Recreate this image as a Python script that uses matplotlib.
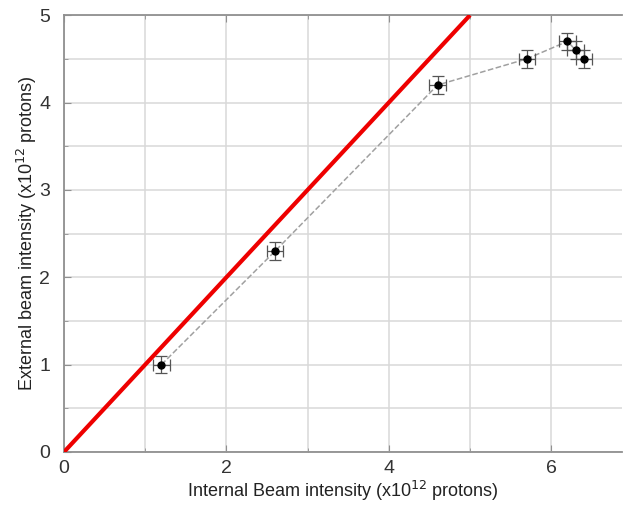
import numpy as np
import matplotlib
matplotlib.use('Agg')
import matplotlib.pyplot as plt
from matplotlib.ticker import MultipleLocator

plt.rcParams['font.family'] = ['Liberation Sans', 'DejaVu Sans']

internal = [1.2, 2.6, 4.6, 5.7, 6.2, 6.3, 6.4]
external = [1.0, 2.3, 4.2, 4.5, 4.7, 4.6, 4.5]
x_err = [0.1, 0.1, 0.1, 0.1, 0.1, 0.1, 0.1]
y_err = [0.1, 0.1, 0.1, 0.1, 0.1, 0.1, 0.1]

# Ideal 1:1 line
ideal_x = [0, 5]
ideal_y = [0, 5]


def main():
    fig = plt.figure(figsize=(6.24, 5.05), dpi=100)
    ax = fig.add_axes([0.1026, 0.105, 0.894, 0.865])

    ax.plot(internal, external, linestyle='--', color='#a0a0a0', linewidth=1.1, zorder=2)
    ax.errorbar(internal, external, xerr=x_err, yerr=y_err, fmt='o', color='black',
                markersize=5, ecolor='#555555', elinewidth=0.9, capsize=4, capthick=0.9, zorder=3)
    ax.plot(ideal_x, ideal_y, color='#ee0000', linewidth=3, zorder=4, solid_capstyle='butt')

    ax.set_xlim(0, 6.87)
    ax.set_ylim(0, 5)
    ax.xaxis.set_major_locator(MultipleLocator(2))
    ax.xaxis.set_minor_locator(MultipleLocator(1))
    ax.yaxis.set_major_locator(MultipleLocator(1))
    ax.yaxis.set_minor_locator(MultipleLocator(0.5))
    ax.grid(which='both', color='#d8d8d8', linewidth=1.1, zorder=0)
    ax.set_axisbelow(True)

    for side in ['left', 'bottom', 'top']:
        ax.spines[side].set_color('#909090')
        ax.spines[side].set_linewidth(1.3)
    ax.spines['right'].set_visible(False)
    ax.tick_params(which='both', direction='in', color='#909090', labelsize=14,
                   labelcolor='#333333', top=True)
    ax.tick_params(axis='x', pad=6)
    ax.tick_params(axis='y', pad=10)
    ax.tick_params(which='major', length=5)
    ax.tick_params(which='minor', length=3)

    ax.set_xlabel('Internal Beam intensity (x10$^{12}$ protons)', fontsize=13, color='#222222', labelpad=1)
    ax.set_ylabel('External beam intensity (x10$^{12}$ protons)', fontsize=13, color='#222222', labelpad=0)

    fig.savefig('out.png', dpi=100)


if __name__ == "__main__":
    main()
